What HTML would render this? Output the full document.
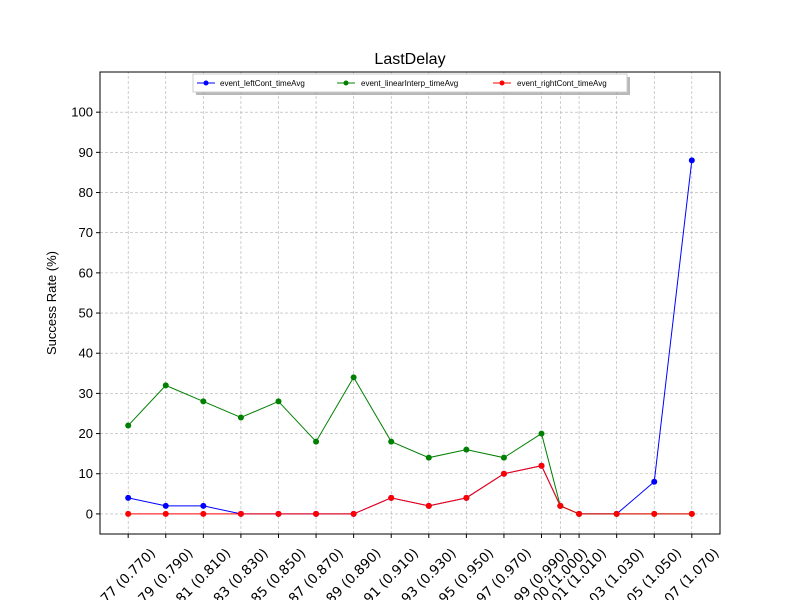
<!DOCTYPE html>
<html><head><meta charset="utf-8"><style>
body{margin:0;background:#fff;}
svg text{font-family:"Liberation Sans","DejaVu Sans",sans-serif;}
svg text.xt{font-family:"DejaVu Sans","Liberation Sans",sans-serif;}
</style></head><body>
<svg id="chart" width="800" height="600" xmlns="http://www.w3.org/2000/svg">
<text x="410" y="64" text-anchor="middle" font-size="16">LastDelay</text>
<g id="grid"></g>
<g id="axes"></g>
<g id="series"></g>
<rect x="100" y="72" width="620" height="462" fill="none" stroke="#000" stroke-width="1"/>
<text transform="translate(56,303) rotate(-90)" text-anchor="middle" font-size="13">Success Rate (%)</text>
<g>
<rect x="196" y="77" width="434" height="18" fill="#888" opacity="0.6"/>
<rect x="193" y="74" width="434" height="18" fill="#fff" stroke="#ccc"/>
<g><line x1="197" y1="83" x2="215" y2="83" stroke="blue"/><circle cx="206" cy="83" r="2.5" fill="blue"/><text x="220" y="86" font-size="8">event_leftCont_timeAvg</text></g>
<g><line x1="337" y1="83" x2="355" y2="83" stroke="green"/><circle cx="346" cy="83" r="2.5" fill="green"/><text x="361" y="86" font-size="8">event_linearInterp_timeAvg</text></g>
<g><line x1="493" y1="83" x2="511" y2="83" stroke="red"/><circle cx="502" cy="83" r="2.5" fill="red"/><text x="517" y="86" font-size="8">event_rightCont_timeAvg</text></g>
</g>
</svg>
<script>
const xValues=[0.77,0.79,0.81,0.83,0.85,0.87,0.89,0.91,0.93,0.95,0.97,0.99,1.00,1.01,1.03,1.05,1.07];
const xLabels=["0.77 (0.770)","0.79 (0.790)","0.81 (0.810)","0.83 (0.830)","0.85 (0.850)","0.87 (0.870)","0.89 (0.890)","0.91 (0.910)","0.93 (0.930)","0.95 (0.950)","0.97 (0.970)","0.99 (0.990)","1.00 (1.000)","1.01 (1.010)","1.03 (1.030)","1.05 (1.050)","1.07 (1.070)"];
const leftCont=[4,2,2,0,0,0,0,4,2,4,10,12,2,0,0,8,88];
const linearInterp=[22,32,28,24,28,18,34,18,14,16,14,20,2,0,0,0,0];
const rightCont=[0,0,0,0,0,0,0,4,2,4,10,12,2,0,0,0,0];
const yTicks=[0,10,20,30,40,50,60,70,80,90,100];
const NS="http://www.w3.org/2000/svg";
const X0=100,X1=720,Y0=534,Y1=72,xmin=0.755,xmax=1.085,ymin=-5,ymax=110;
function sx(v){return X0+(v-xmin)/(xmax-xmin)*(X1-X0);}
function sy(v){return Y0-(v-ymin)/(ymax-ymin)*(Y0-Y1);}
function mk(t,a,p){const e=document.createElementNS(NS,t);for(const k in a)e.setAttribute(k,a[k]);p.appendChild(e);return e;}
const grid=document.getElementById('grid'),axes=document.getElementById('axes'),ser=document.getElementById('series');
yTicks.forEach(t=>{const y=sy(t);
const g=mk('line',{x1:X0,x2:X1,y1:y,y2:y,stroke:'#b0b0b0','stroke-width':0.6,'stroke-dasharray':'3,2'},grid);


mk('line',{x1:X0-4,x2:X0,y1:y,y2:y,stroke:'#000'},axes);
const tx=mk('text',{x:X0-7,y:y+4.5,'text-anchor':'end','font-size':13},axes);tx.textContent=t;


});
xValues.forEach((v,i)=>{const x=sx(v);
const g=mk('line',{x1:x,x2:x,y1:Y0,y2:Y1,stroke:'#b0b0b0','stroke-width':0.6,'stroke-dasharray':'3,2'},grid);


mk('line',{x1:x,x2:x,y1:Y0,y2:Y0+4,stroke:'#000'},axes);
const tx=mk('text',{x:0,y:0,'class':'xt','text-anchor':'end','font-size':13.5,transform:`translate(${x+28},${Y0+20}) rotate(-45)`},axes);tx.textContent=xLabels[i];


});
[[leftCont,'blue','leftcont'],[linearInterp,'green','linearinterp'],[rightCont,'red','rightcont']].forEach(([d,c,n])=>{
const pts=d.map((v,i)=>sx(xValues[i])+','+sy(v)).join(' ');
const pl=mk('polyline',{points:pts,fill:'none',stroke:c,'stroke-width':1},ser);


d.forEach((v,i)=>{const p=mk('circle',{cx:sx(xValues[i]),cy:sy(v),r:3,fill:c},ser);

});
});
</script>
</body></html>
